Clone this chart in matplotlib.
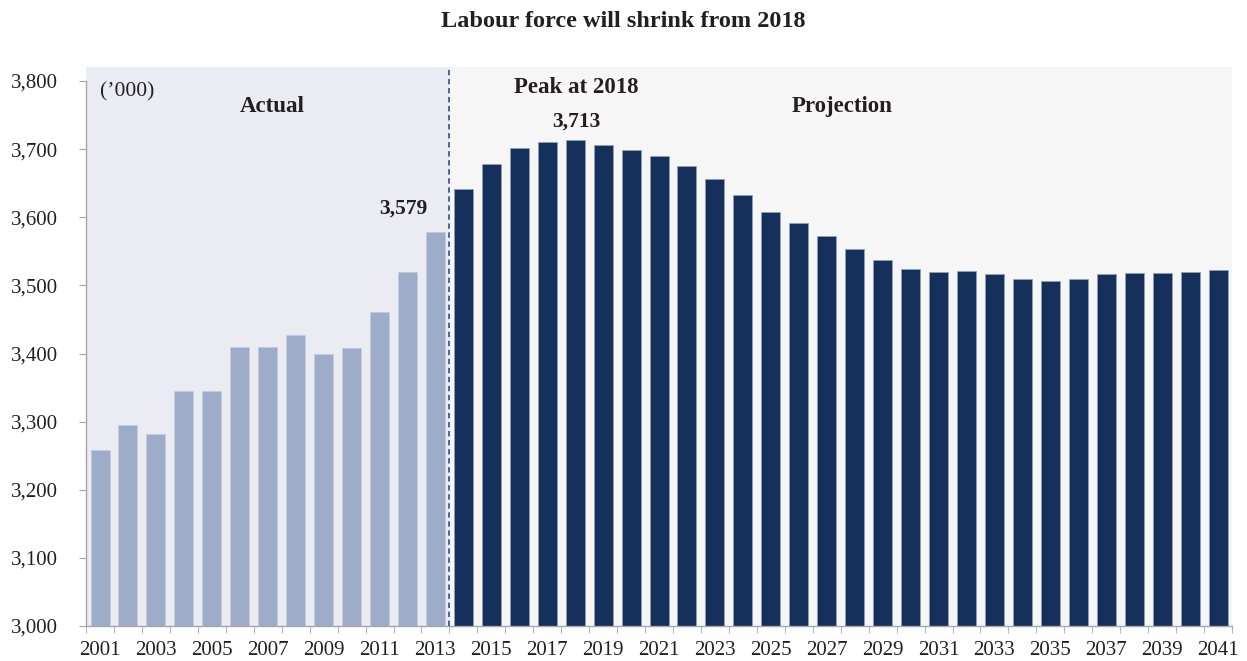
import matplotlib.pyplot as plt
import numpy as np

plt.rcParams["font.family"] = ["Liberation Serif", "DejaVu Serif"]

# Labour force ('000), actual 2001-2013 and projection 2014-2041
years_actual = list(range(2001, 2014))
labour_actual = [3258, 3295, 3282, 3345, 3345, 3409, 3410, 3427, 3400, 3408,
                 3461, 3520, 3579]
years_proj = list(range(2014, 2042))
labour_proj = [3641, 3678, 3701, 3710, 3713, 3706, 3699, 3690, 3676, 3656,
               3632, 3608, 3592, 3573, 3554, 3537, 3524, 3519, 3521, 3516,
               3509, 3506, 3510, 3516, 3518, 3518, 3519, 3522]

years = years_actual + years_proj
n_act = len(years_actual)
x_act = np.arange(n_act)
x_proj = np.arange(n_act, len(years))

fig = plt.figure(figsize=(12.47, 6.61), dpi=100)
ax = fig.add_axes([0.069, 0.053, 0.919, 0.845])

ymin, ymax, shade_top = 3000, 3800, 3820

# Shaded background regions
ax.fill_between([-0.5, n_act - 0.5], ymin, shade_top, color="#ebebf4",
                lw=0, zorder=0)
ax.fill_between([n_act - 0.5, len(years) - 0.5], ymin, shade_top,
                color="#f6f6f6", lw=0, zorder=0)

ax.bar(x_act, labour_actual, width=0.68, color="#9dadc9", bottom=0,
       edgecolor="#c3cde0", linewidth=0.6, zorder=2)
ax.bar(x_proj, labour_proj, width=0.68, color="#15305a", bottom=0,
       edgecolor="#8f9fbb", linewidth=0.6, zorder=2)

ax.axvline(n_act - 0.5, ymin=0, ymax=1, color="#3a5a9a", lw=1.3,
           ls=(0, (3, 2)), zorder=3)

ax.set_xlim(-0.5, len(years) - 0.5)
ax.set_ylim(ymin, shade_top)

# Axes styling
for side in ["top", "right"]:
    ax.spines[side].set_visible(False)
for side in ["left", "bottom"]:
    ax.spines[side].set_color("#a6a6a6")
    ax.spines[side].set_linewidth(1.0)
ax.spines["left"].set_bounds(ymin, ymax)

ax.set_yticks(np.arange(ymin, ymax + 1, 100))
ax.set_yticklabels([f"{v:,}" for v in range(ymin, ymax + 1, 100)])
ax.set_xticks(np.arange(len(years))[::2])
ax.set_xticklabels([str(y) for y in years[::2]])
ax.set_xticks(np.arange(-0.5, len(years)), minor=True)
ax.tick_params(axis="x", which="major", length=0, pad=11, labelsize=15,
               colors="#231f20")
ax.tick_params(axis="x", which="minor", length=5, color="#a6a6a6",
               direction="out")
ax.tick_params(axis="y", length=5, color="#a6a6a6", pad=15, labelsize=15,
               labelcolor="#231f20")

# Annotations
ax.text(0.0, 3784, "(\u2019000)", fontsize=15.5, color="#231f20", va="center",
        ha="left")
ax.text(6.15, 3763, "Actual", fontsize=16.5, fontweight="bold",
        color="#231f20", ha="center", va="center")
ax.text(26.55, 3763, "Projection", fontsize=16.5, fontweight="bold",
        color="#231f20", ha="center", va="center")
ax.text(17.03, 3790, "Peak at 2018", fontsize=16.5, fontweight="bold",
        color="#231f20", ha="center", va="center")
ax.text(17.03, 3740, f"{labour_proj[4]:,}", fontsize=15.5, fontweight="bold",
        color="#231f20", ha="center", va="center")
ax.text(10.84, 3613, f"{labour_actual[-1]:,}", fontsize=15.5,
        fontweight="bold", color="#231f20", ha="center", va="center")

fig.text(0.5, 0.968, "Labour force will shrink from 2018", fontsize=17.5,
         fontweight="bold", color="#231f20", ha="center", va="center")

plt.savefig("out.png", dpi=100)
